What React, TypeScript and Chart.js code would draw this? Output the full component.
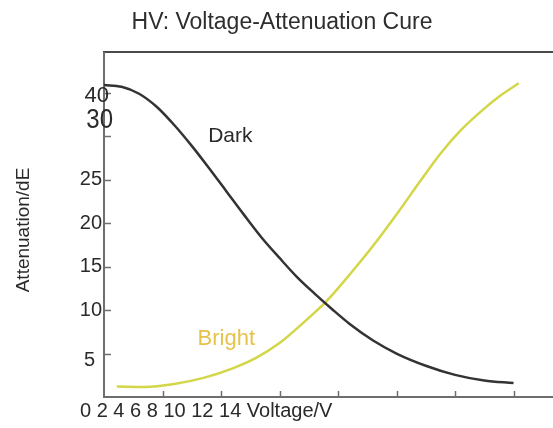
import { useEffect, useRef } from "react";
import { Chart, registerables } from "chart.js";

Chart.register(...registerables);

// ---- data ----
const titleText = "HV: Voltage-Attenuation Cure";
const yAxisTitle = "Attenuation/dE";
const xAxisText = "0 2 4 6 8 10 12 14 Voltage/V";

const darkVoltage = [0, 0.3, 0.6, 0.9, 1.2, 1.5, 1.8, 2.1, 2.4, 2.7, 3.0, 3.3, 3.6, 3.9, 4.2, 4.6, 5.0, 5.5, 6.0, 6.5, 7.0];
const darkAttenuation = [35.9, 35.7, 34.9, 33.4, 31.3, 28.9, 26.3, 23.6, 20.9, 18.3, 16.0, 13.8, 11.9, 10.1, 8.4, 6.5, 5.0, 3.6, 2.55, 1.9, 1.6];

const brightVoltage = [0.22, 0.7, 1.2, 1.7, 2.2, 2.6, 3.0, 3.4, 3.8, 4.2, 4.6, 5.0, 5.4, 5.75, 6.1, 6.45, 6.8, 7.09];
const brightAttenuation = [1.2, 1.15, 1.5, 2.2, 3.3, 4.5, 6.2, 8.5, 11.0, 14.1, 17.4, 21.0, 24.8, 28.0, 30.7, 32.9, 34.8, 36.1];

const yTickValues = [5, 10, 15, 20, 25, 30, 35];
const yTickLabels = ["5", "10", "15", "20", "25", "", "40"];
const extraYLabel = "30";
const xTickValues = [1, 2, 3, 4, 5, 6, 7];

const seriesNames = ["Dark", "Bright"];

const FONT = '"Liberation Sans", Arial, sans-serif';

const overlayPlugin = {
  id: "overlay",
  beforeDatasetsDraw(chart: any) {
    const { ctx, chartArea: a, scales } = chart;
    const x = scales.x;
    const y = scales.y;
    ctx.save();
    // top border
    ctx.strokeStyle = "#4a4a4a";
    ctx.lineWidth = 2;
    ctx.beginPath();
    ctx.moveTo(a.left - 1, a.top);
    ctx.lineTo(a.right, a.top);
    ctx.stroke();
    // y axis
    ctx.strokeStyle = "#6e6e6e";
    ctx.beginPath();
    ctx.moveTo(a.left, a.top);
    ctx.lineTo(a.left, a.bottom + 1);
    ctx.stroke();
    // x axis
    ctx.beginPath();
    ctx.moveTo(a.left, a.bottom);
    ctx.lineTo(a.right, a.bottom);
    ctx.stroke();
    // y ticks (inside)
    ctx.lineWidth = 1.5;
    yTickValues.forEach((v) => {
      const py = Math.round(y.getPixelForValue(v)) + 0.5;
      ctx.beginPath();
      ctx.moveTo(a.left, py);
      ctx.lineTo(a.left + 7, py);
      ctx.stroke();
    });
    // x ticks (inside)
    xTickValues.forEach((v) => {
      const px = Math.round(x.getPixelForValue(v)) + 0.5;
      ctx.beginPath();
      ctx.moveTo(px, a.bottom);
      ctx.lineTo(px, a.bottom - 6);
      ctx.stroke();
    });
    ctx.restore();
  },
  afterDraw(chart: any) {
    const { ctx, chartArea: a, scales } = chart;
    const x = scales.x;
    const y = scales.y;
    ctx.save();
    ctx.textBaseline = "middle";
    // title
    ctx.fillStyle = "#2e2e2e";
    ctx.font = `23px ${FONT}`;
    ctx.textAlign = "center";
    ctx.fillText(titleText, 282, 23);
    // y tick labels
    ctx.fillStyle = "#2a2a2a";
    ctx.font = `20px ${FONT}`;
    ctx.textAlign = "right";
    yTickValues.forEach((v, i) => {
      const lab = yTickLabels[i];
      if (!lab) return;
      let py = y.getPixelForValue(v);
      let px = a.left - 2;
      if (lab === "5") { py += 7; px = a.left - 9; }
      if (lab === "40") { px = a.left + 5; py += 3; ctx.font = `22px ${FONT}`; }
      ctx.fillText(lab, px, py);
    });
    // oversized "30" label
    ctx.save();
    ctx.translate(a.left + 9, y.getPixelForValue(31.9));
    ctx.scale(1, 1.18);
    ctx.font = `24px ${FONT}`;
    ctx.fillText(extraYLabel, 0, 0);
    ctx.restore();
    // x axis text
    ctx.font = `20px ${FONT}`;
    ctx.textAlign = "left";
    ctx.fillStyle = "#2a2a2a";
    ctx.fillText(xAxisText, 80, a.bottom + 14);
    // y axis title
    ctx.save();
    ctx.translate(24, 230);
    ctx.rotate(-Math.PI / 2);
    ctx.textAlign = "center";
    ctx.font = `19px ${FONT}`;
    ctx.fillText(yAxisTitle, 0, 0);
    ctx.restore();
    // series labels
    ctx.textAlign = "left";
    ctx.fillStyle = "#2a2a2a";
    ctx.font = `21px ${FONT}`;
    ctx.fillText(seriesNames[0], x.getPixelForValue(1.78), y.getPixelForValue(30.0));
    ctx.fillStyle = "#e6c24a";
    ctx.font = `22px ${FONT}`;
    ctx.fillText(seriesNames[1], x.getPixelForValue(1.6), y.getPixelForValue(6.7));
    ctx.restore();
  },
};

export default function App() {
  const ref = useRef<HTMLCanvasElement | null>(null);
  useEffect(() => {
    if (!ref.current) return;
    const chart = new Chart(ref.current, {
      type: "line",
      data: {
        datasets: [
          {
            label: seriesNames[0],
            data: darkVoltage.map((v, i) => ({ x: v, y: darkAttenuation[i] })),
            borderColor: "#333333",
            borderWidth: 2.5,
            pointRadius: 0,
            cubicInterpolationMode: "monotone",
            fill: false,
          },
          {
            label: seriesNames[1],
            data: brightVoltage.map((v, i) => ({ x: v, y: brightAttenuation[i] })),
            borderColor: "#d3d647",
            borderWidth: 2.5,
            pointRadius: 0,
            cubicInterpolationMode: "monotone",
            fill: false,
          },
        ],
      },
      options: {
        animation: false,
        responsive: false,
        layout: { padding: { left: 104, top: 52, right: 0, bottom: 31 } },
        plugins: { legend: { display: false }, title: { display: false }, tooltip: { enabled: false } },
        scales: {
          x: { type: "linear", display: false, min: 0, max: 7.675 },
          y: { type: "linear", display: false, min: 0, max: 39.7 },
        },
      },
      plugins: [overlayPlugin],
    });
    return () => chart.destroy();
  }, []);
  return (
    <div style={{ position: "fixed", left: 0, top: 0, width: 553, height: 428, background: "#fff" }}>
      <canvas ref={ref} width={553} height={428} style={{ display: "block" }} />
    </div>
  );
}
